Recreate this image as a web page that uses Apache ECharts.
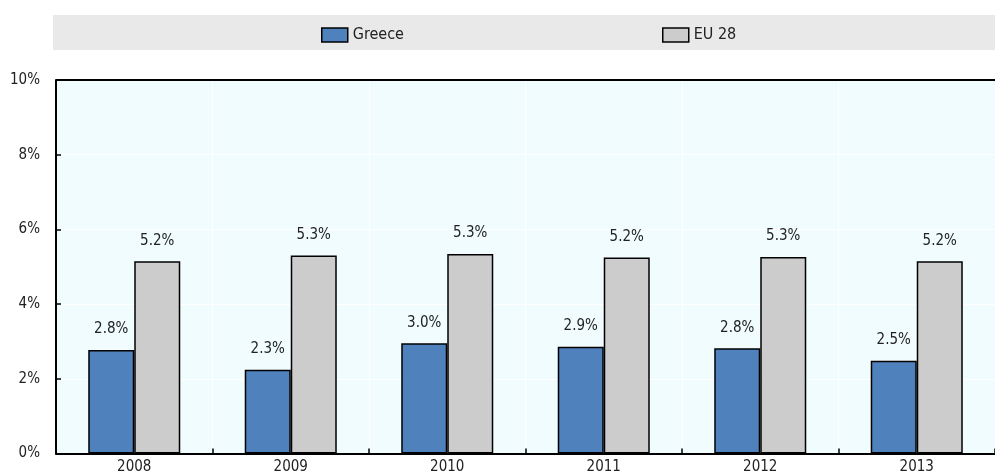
<!DOCTYPE html>
<html>
<head>
<meta charset="utf-8">
<script src="https://cdn.jsdelivr.net/npm/echarts@6/dist/echarts.min.js"></script>
<style>
html,body{margin:0;padding:0;background:#fff;}
#chart{width:995px;height:475px;}
</style>
</head>
<body>
<div id="chart"></div>
<script>
const categories = ["2008", "2009", "2010", "2011", "2012", "2013"];
const greeceValues = [2.77, 2.24, 2.95, 2.86, 2.82, 2.48];
const eu28Values = [5.15, 5.30, 5.34, 5.25, 5.26, 5.15];
const greeceLabels = ["2.8%", "2.3%", "3.0%", "2.9%", "2.8%", "2.5%"];
const eu28Labels = ["5.2%", "5.3%", "5.3%", "5.2%", "5.3%", "5.2%"];
const yTicks = [0, 2, 4, 6, 8, 10];

const FONT = '"Liberation Sans Narrow", "Arial Narrow", "DejaVu Sans Condensed", sans-serif';
const chart = echarts.init(document.getElementById('chart'), null, {renderer: 'canvas'});

function labelFor(arr) {
  return {
    show: true, position: 'top', distance: 13,
    color: '#222', fontFamily: FONT, fontSize: 15,
    formatter: p => arr[p.dataIndex]
  };
}

const legendCommon = {
  top: 22, itemWidth: 26, itemHeight: 14, itemGap: 10, icon: 'rect',
  itemStyle: {borderColor: '#000', borderWidth: 1.5},
  textStyle: {fontFamily: FONT, fontSize: 16, color: '#222'}
};

chart.setOption({
  animation: false,
  graphic: [
    {type: 'rect', left: 53, top: 15, shape: {width: 942, height: 35}, style: {fill: '#e9e9e9'}, z: -1}
  ],
  legend: [
    Object.assign({data: ['Greece'], left: 316}, legendCommon),
    Object.assign({data: ['EU 28'], left: 657}, legendCommon)
  ],
  grid: {left: 56, right: 0, top: 80, bottom: 21.5, show: true, backgroundColor: '#f0fcfd', borderWidth: 0},
  xAxis: {
    type: 'category', data: categories,
    axisLine: {show: true, lineStyle: {color: '#000', width: 2}},
    axisTick: {show: true, inside: true, length: 5, lineStyle: {color: '#000', width: 1.5}},
    axisLabel: {color: '#222', fontFamily: FONT, fontSize: 15, margin: 6},
    splitLine: {show: true, lineStyle: {color: '#ffffff', width: 1}}
  },
  yAxis: {
    type: 'value', min: 0, max: 10, interval: 2,
    axisLine: {show: true, lineStyle: {color: '#000', width: 2}},
    axisTick: {show: true, inside: true, length: 5, lineStyle: {color: '#000', width: 1.5}},
    axisLabel: {color: '#222', fontFamily: FONT, fontSize: 15, margin: 16, formatter: v => v + '%'},
    splitLine: {show: true, lineStyle: {color: '#ffffff', width: 1}}
  },
  series: [
    {name: 'Greece', type: 'bar', data: greeceValues, barWidth: '29.4%', barGap: '0%',
     itemStyle: {color: '#4f81bd', borderColor: '#000', borderWidth: 1.5},
     label: labelFor(greeceLabels)},
    {name: 'EU 28', type: 'bar', data: eu28Values, barWidth: '29.4%', barGap: '0%',
     itemStyle: {color: '#cccccc', borderColor: '#000', borderWidth: 1.5},
     label: labelFor(eu28Labels)},
    {type: 'line', data: [], markLine: {silent: true, symbol: 'none', label: {show: false},
      lineStyle: {color: '#000', width: 2, type: 'solid'}, data: [{yAxis: 10}]}}
  ]
});
</script>
</body>
</html>
